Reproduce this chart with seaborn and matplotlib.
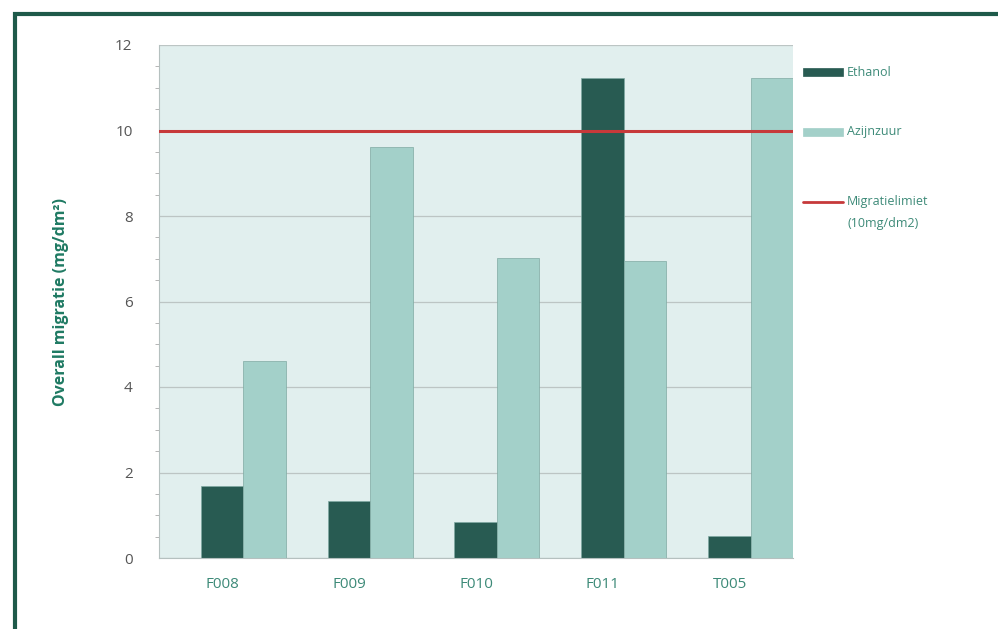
import numpy as np
import pandas as pd
import matplotlib
matplotlib.use("Agg")
import matplotlib.pyplot as plt
import seaborn as sns
from matplotlib.patches import Rectangle
from matplotlib.lines import Line2D
from matplotlib.ticker import MultipleLocator

categories = ["F008", "F009", "F010", "F011", "T005"]
ethanol = [1.68, 1.33, 0.84, 11.23, 0.51]
aqueous = [4.6, 9.61, 7.02, 6.95, 11.23]
limit_value = 10
series_names = ["Ethanol", "Azijnzuur", "Migratielimiet"]
limit_note = "(10mg/dm2)"
yticks = [0, 2, 4, 6, 8, 10, 12]

df = pd.DataFrame({
    "cat": categories * 2,
    "val": ethanol + aqueous,
    "serie": [series_names[0]] * 5 + [series_names[1]] * 5,
})

sns.set_style("white")
plt.rcParams["font.family"] = ["Open Sans", "DejaVu Sans"]

dark = "#285b52"
light = "#a3d0c9"
red = "#c6393a"
text_col = "#3d8a78"

W, H = 998, 629
fig = plt.figure(figsize=(9.98, 6.29), dpi=100)
ax = fig.add_axes([159 / W, 1 - 558 / H, (793 - 159) / W, (558 - 45) / H])
ax.set_facecolor("#e1efee")

sns.barplot(data=df, x="cat", y="val", hue="serie", order=categories,
            hue_order=series_names[:2], palette=[dark, light], width=0.67,
            dodge=True, ax=ax, legend=False, saturation=1, zorder=2,
            edgecolor="#7fa9a2", linewidth=0.5)

off = 0.165
ax.set_xlim(-0.5 - off, 4.5 - off)
ax.set_ylim(0, 12)
ax.axhline(limit_value, color=red, lw=2.2, zorder=4)

ax.set_xticks(np.arange(5) - off)
ax.set_xticklabels(categories, color=text_col, fontsize=11)
ax.set_xticks(np.arange(6) - 0.5 - off, minor=True)
ax.tick_params(axis="x", which="major", length=0, pad=14)
ax.tick_params(axis="x", which="minor", length=6, color="#999999", width=0.8)

ax.set_yticks(yticks)
ax.set_yticklabels([str(t) for t in yticks], color="#555555", fontsize=11)
ax.yaxis.set_minor_locator(MultipleLocator(0.5))
ax.tick_params(axis="y", which="major", length=7, color="#999999", width=0.8, pad=12)
ax.tick_params(axis="y", which="minor", length=3, color="#aaaaaa", width=0.6, left=True)
ax.grid(axis="y", color="#bcc5c4", lw=0.9, zorder=0)
ax.set_axisbelow(True)

for s in ["top", "right"]:
    ax.spines[s].set_visible(False)
ax.spines["left"].set_color("#b5c0bf")
ax.spines["bottom"].set_color("#b5c0bf")

ax.set_xlabel("")
ax.set_ylabel("Overall migratie (mg/dm²)", color="#1f7a63", fontsize=11.5,
              fontweight="bold", labelpad=33)

# legend (manual placement, figure pixel coordinates)
def fx(x):
    return x / W

def fy(y):
    return 1 - y / H

for ypix, col in [(72, dark), (132, light)]:
    fig.add_artist(Rectangle((fx(803), fy(ypix + 3.5)), 40 / W, 7 / H,
                             transform=fig.transFigure, facecolor=col,
                             edgecolor=col, lw=0.5))
fig.add_artist(Line2D([fx(803), fx(843)], [fy(202), fy(202)],
                      transform=fig.transFigure, color=red, lw=2))
for ypix, txt in [(72, series_names[0]), (132, series_names[1]),
                  (201, series_names[2]), (224, limit_note)]:
    fig.text(fx(847), fy(ypix), txt, color=text_col, fontsize=9,
             va="center", ha="left")

fig.patches.append(Rectangle((15 / W, -0.05), 1.1, 1 - 14 / H + 0.05,
                             transform=fig.transFigure, fill=False,
                             edgecolor="#1e5a4a", lw=3, zorder=10))

fig.savefig("out.png", dpi=100, facecolor="white")
